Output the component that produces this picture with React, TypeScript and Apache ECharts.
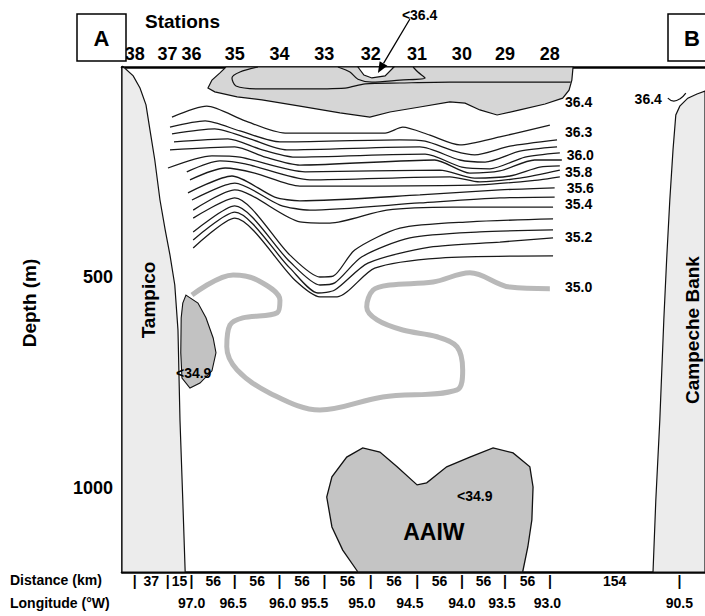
import React, { useEffect, useRef } from 'react';
import * as echarts from 'echarts';

const FONT = '"Liberation Sans", Arial, Helvetica, sans-serif';

// ---- axes (x = along-section distance in km, y = depth in m) ----
const X_MIN = -35;
const X_MAX = 694;
const DEPTH_MAX = 1200;
const depthTicks = [500, 1000];

const stationNames = ['38', '37', '36', '35', '34', '33', '32', '31', '30', '29', '28'];
const stationKm = [-19, 22, 52, 106, 162, 218, 276, 334, 390, 444, 500];
const bankKm = 662;
const segmentKm = ['37', '15', '56', '56', '56', '56', '56', '56', '56', '56', '154'];
const longitudeLabels = ['97.0', '96.5', '96.0', '95.5', '95.0', '94.5', '94.0', '93.5', '93.0', '90.5'];
const longitudeKm = [52, 104, 166, 206, 265, 325, 390, 440, 497, 662];

// ---- shelves ----
const tampicoShelf = [[-35, 0], [-32, 2], [-21, 21], [-12.5, 50], [-5, 90], [0, 150], [6, 221], [12.5, 316], [19, 387], [25, 447], [31, 518], [35, 625], [37.5, 839], [41, 1029], [44, 1200], [-35, 1200]];
const campecheBank = [[694, 57], [684, 64], [672.5, 74], [662.5, 93], [657.5, 114], [654, 197], [650, 316], [646, 459], [642.5, 601], [637.5, 839], [632.5, 1029], [629, 1200], [694, 1200]];

// ---- surface salinity maximum (>36.4) ----
const surface364 = [[95, 0], [529, 0], [527.5, 31], [524, 55], [516, 74], [494, 88], [462.5, 102], [434, 114], [412.5, 102], [394, 86], [375, 83], [337.5, 95], [300, 107], [275, 119], [237.5, 109], [187.5, 93], [140, 78], [109, 71], [81, 59], [72.5, 50], [77.5, 31], [87.5, 14]];
const surfaceInner = [[135, 0], [112.5, 12], [102.5, 26], [107.5, 45], [137.5, 52], [187.5, 52], [244, 50], [269, 40], [312.5, 38], [375, 36], [462.5, 36], [526, 36]];
const lobe32 = [[235, 0], [250, 12], [260, 29], [277.5, 36], [312.5, 31], [344, 26], [335, 12], [329, 0]];
const hole32 = [[260, 0], [267.5, 19], [277.5, 26], [294, 21], [305, 0]];
const bankCurve = [[647.5, 74], [655, 81], [662.5, 76], [670, 62]];

// ---- salinity isolines (36.3 ... 35.2) ----
const isoA = [[27.5, 119], [71, 93], [119, 128], [169, 157], [294, 157], [316, 143], [350, 162], [387.5, 185], [437.5, 166], [500, 138]];
const isoB = [[25, 143], [69, 128], [112.5, 152], [162.5, 178], [312.5, 173], [344, 176], [381, 200], [406, 209], [450, 188], [509, 173]];
const isoC = [[27.5, 159], [81, 147], [125, 171], [171, 197], [337.5, 190], [387.5, 221], [419, 226], [462.5, 200], [509, 190]];
const isoD = [[30, 178], [97.5, 171], [137.5, 195], [181, 214], [344, 207], [390, 238], [425, 242], [469, 214], [512.5, 204]];
const isoE = [[25, 197], [106, 190], [144, 214], [187.5, 233], [356, 221], [400, 252], [437.5, 247], [481, 221], [515, 221]];
const isoF = [[22.5, 240], [77.5, 211], [112.5, 214], [194, 249], [362.5, 245], [406, 264], [450, 259], [487.5, 238], [512.5, 235]];
const isoG = [[46, 249], [87.5, 223], [119, 230], [200, 268], [375, 261], [412.5, 273], [462.5, 264], [512.5, 245]];
const isoH = [[50, 268], [94, 240], [131, 252], [187.5, 283], [412.5, 280], [487.5, 268], [512.5, 261]];
const isoI = [[47.5, 299], [102.5, 259], [156, 309], [187.5, 318], [337.5, 304], [437.5, 292], [506, 287]];
const isoJ = [[52.5, 316], [106, 276], [162.5, 328], [200, 340], [337.5, 323], [437.5, 311], [506, 309]];
const isoK = [[54, 340], [106, 292], [187.5, 368], [225, 371], [296, 340], [379, 333], [504, 333]];
const isoL = [[54, 359], [106, 311], [175, 447], [212.5, 499], [229, 497], [256, 435], [312.5, 383], [400, 368], [504, 361]];
const isoM = [[54, 392], [106, 330], [175, 463], [212.5, 518], [231, 513], [265, 451], [325, 406], [412.5, 392], [504, 387]];
const isoN = [[54, 411], [106, 345], [175, 478], [210, 537], [231, 530], [272.5, 466], [350, 428], [437.5, 416], [504, 406]];
const isoO = [[54, 430], [106, 359], [181, 506], [212.5, 546], [234, 546], [281, 478], [362.5, 454], [504, 449]];

// ---- 35.0 isoline (grey) ----
const iso350 = [[52.5, 542], [104, 494], [134, 506], [162.5, 554], [159, 584], [116, 596], [100, 613], [96, 665], [109, 720], [150, 775], [212.5, 815], [291, 784], [384, 767], [391, 720], [384, 665], [359, 641], [316, 625], [284, 601], [271, 570], [279, 530], [300, 518], [354, 511], [400, 489], [450, 523], [500, 527]];

// ---- low-salinity cores (<34.9) ----
const blob349 = [[45, 542], [60, 561], [70, 596], [79, 644], [82.5, 679], [77.5, 722], [62.5, 751], [50, 763], [40, 739], [38.5, 679], [39, 596], [41, 561]];
const aaiw = [[260, 1200], [241, 1148], [227.5, 1093], [221, 1022], [227.5, 974], [246, 927], [266, 905], [287.5, 915], [309, 950], [334, 993], [346, 988], [371, 950], [400, 927], [429, 905], [454, 917], [475, 950], [479, 998], [477.5, 1076], [472.5, 1140], [466, 1200]];

// ---- contour labels ----
const contourLabels = ['36.4', '36.3', '36.0', '35.8', '35.6', '35.4', '35.2', '35.0', '36.4', '<36.4', '<34.9', '<34.9'];
const contourLabelAnchors = [[519, 83], [519, 154], [521, 209], [519, 249], [521, 287], [519, 326], [519, 404], [519, 523], [606, 76], [315, -124], [32.5, 727], [384, 1019]];
const waterMassLabel = 'AAIW';
const waterMassAnchor = [355, 1105];
const arrowFrom = [325, -114];
const arrowTo = [285, 14];

function polygonSeries(pts: number[][], style: any, z = 2) {
  return {
    type: 'custom',
    coordinateSystem: 'cartesian2d',
    silent: true,
    z,
    data: pts,
    renderItem: (params: any, api: any) => {
      if (params.dataIndex !== 0) return null;
      return { type: 'polygon', shape: { points: pts.map((p) => api.coord(p)) }, style };
    },
  };
}

function lineSeries(pts: number[][], color = '#111', width = 1.3, smooth: number = 0.3, z = 3) {
  return {
    type: 'line',
    data: pts,
    symbol: 'none',
    showSymbol: false,
    smooth,
    silent: true,
    z,
    lineStyle: { color, width },
  };
}

export default function App() {
  const ref = useRef<HTMLDivElement>(null);
  useEffect(() => {
    if (!ref.current) return;
    const chart = echarts.init(ref.current, undefined, { renderer: 'svg' });

    const bottomTicks = [...stationKm, bankKm];
    const mids = bottomTicks.slice(1).map((v, i) => (v + bottomTicks[i]) / 2);
    const bottomMap = new Map<number, string>();
    bottomTicks.forEach((v) => bottomMap.set(v, '|'));
    mids.forEach((v, i) => bottomMap.set(v, segmentKm[i]));
    const bottomValues = [...bottomTicks, ...mids].sort((a, b) => a - b);
    const lonMap = new Map<number, string>();
    longitudeKm.forEach((v, i) => lonMap.set(v, longitudeLabels[i]));
    const stMap = new Map<number, string>();
    stationKm.forEach((v, i) => stMap.set(v, stationNames[i]));

    const bold = (size: number) => ({ fontFamily: FONT, fontWeight: 'bold' as const, fontSize: size, color: '#000' });
    const frameLine = { show: true, onZero: false, lineStyle: { color: '#000', width: 2.5 } };

    const isolines = [isoA, isoB, isoC, isoD, isoE, isoF, isoG, isoH, isoI, isoJ, isoK, isoL, isoM, isoN, isoO];

    const option: any = {
      animation: false,
      backgroundColor: '#fff',
      grid: { left: 122, right: 0, top: 67, bottom: 44, containLabel: false },
      xAxis: [
        {
          type: 'value', min: X_MIN, max: X_MAX, position: 'bottom',
          axisLine: frameLine,
          axisTick: { show: false }, splitLine: { show: false },
          axisLabel: { ...bold(14), margin: 2, customValues: bottomValues, formatter: (v: number) => bottomMap.get(v) ?? '' },
        },
        {
          type: 'value', min: X_MIN, max: X_MAX, position: 'bottom', offset: 22,
          axisLine: { show: false, onZero: false }, axisTick: { show: false }, splitLine: { show: false },
          axisLabel: { ...bold(14), margin: 2, customValues: longitudeKm, formatter: (v: number) => lonMap.get(v) ?? '' },
        },
        {
          type: 'value', min: X_MIN, max: X_MAX, position: 'top',
          axisLine: frameLine,
          axisTick: { show: false }, splitLine: { show: false },
          axisLabel: { ...bold(18), margin: 4, customValues: stationKm, formatter: (v: number) => stMap.get(v) ?? '' },
        },
      ],
      yAxis: {
        type: 'value', inverse: true, min: 0, max: DEPTH_MAX, position: 'left',
        axisLine: frameLine,
        axisTick: { show: false }, splitLine: { show: false },
        axisLabel: { ...bold(18), margin: 9, customValues: depthTicks, formatter: (v: number) => String(v) },
      },
      series: [
        polygonSeries(tampicoShelf, { fill: '#ececec', stroke: '#111', lineWidth: 1.2 }),
        polygonSeries(campecheBank, { fill: '#ececec', stroke: '#111', lineWidth: 1.2 }),
        polygonSeries(surface364, { fill: '#d6d6d6', stroke: '#111', lineWidth: 1.2 }),
        lineSeries(surfaceInner, '#111', 1.2, 0.3),
        lineSeries(lobe32, '#111', 1.2, 0.3),
        polygonSeries(hole32, { fill: '#fff', stroke: '#111', lineWidth: 1.2 }, 3),
        lineSeries(bankCurve, '#111', 1.2, 0.5),
        polygonSeries(blob349, { fill: '#c2c2c2', stroke: '#111', lineWidth: 1.1 }),
        polygonSeries(aaiw, { fill: '#c4c4c4', stroke: '#111', lineWidth: 1.3 }),
        ...isolines.map((d) => lineSeries(d, '#1a1a1a', 1.3, 0.25)),
        lineSeries(iso350, '#b9b9b9', 5, 0.35),
        {
          type: 'custom', coordinateSystem: 'cartesian2d', silent: true, z: 5,
          data: contourLabelAnchors.map((p, i) => [p[0], p[1], i]),
          renderItem: (_params: any, api: any) => {
            const idx = api.value(2);
            const pt = api.coord([api.value(0), api.value(1)]);
            return {
              type: 'text', x: pt[0], y: pt[1],
              style: { text: contourLabels[idx], font: `bold 14px ${FONT}`, fill: '#000', align: 'left', verticalAlign: 'middle' },
            };
          },
        },
        {
          type: 'custom', coordinateSystem: 'cartesian2d', silent: true, z: 5,
          data: [waterMassAnchor],
          renderItem: (_params: any, api: any) => {
            const pt = api.coord([api.value(0), api.value(1)]);
            return {
              type: 'text', x: pt[0], y: pt[1],
              style: { text: waterMassLabel, font: `bold 23px ${FONT}`, fill: '#000', align: 'center', verticalAlign: 'middle' },
            };
          },
        },
        {
          type: 'custom', coordinateSystem: 'cartesian2d', silent: true, z: 5,
          data: [[...arrowFrom, ...arrowTo]],
          renderItem: (_params: any, api: any) => {
            const p0 = api.coord([api.value(0), api.value(1)]);
            const p1 = api.coord([api.value(2), api.value(3)]);
            const dx = p1[0] - p0[0];
            const dy = p1[1] - p0[1];
            const len = Math.sqrt(dx * dx + dy * dy) || 1;
            const ux = dx / len, uy = dy / len;
            const nx = -uy, ny = ux;
            const hl = 11, hw = 4.5;
            const bx = p1[0] - ux * hl, by = p1[1] - uy * hl;
            return {
              type: 'group',
              children: [
                { type: 'line', shape: { x1: p0[0], y1: p0[1], x2: bx, y2: by }, style: { stroke: '#000', lineWidth: 1.3 } },
                { type: 'polygon', shape: { points: [[p1[0], p1[1]], [bx + nx * hw, by + ny * hw], [bx - nx * hw, by - ny * hw]] }, style: { fill: '#000' } },
              ],
            };
          },
        },
      ],
      graphic: [
        { type: 'rect', z: 20, shape: { x: 77, y: 14, width: 49, height: 47 }, style: { fill: '#fff', stroke: '#000', lineWidth: 1.5 } },
        { type: 'text', z: 21, x: 101.5, y: 38, style: { text: 'A', font: `bold 22px ${FONT}`, fill: '#000', align: 'center', verticalAlign: 'middle' } },
        { type: 'rect', z: 20, shape: { x: 668, y: 14, width: 45, height: 47 }, style: { fill: '#fff', stroke: '#000', lineWidth: 1.5 } },
        { type: 'text', z: 21, x: 692, y: 38, style: { text: 'B', font: `bold 22px ${FONT}`, fill: '#000', align: 'center', verticalAlign: 'middle' } },
        { type: 'text', z: 21, x: 145, y: 21, style: { text: 'Stations', font: `bold 19px ${FONT}`, fill: '#000', align: 'left', verticalAlign: 'middle' } },
        { type: 'text', z: 21, x: 10, y: 580, style: { text: 'Distance (km)', font: `bold 14px ${FONT}`, fill: '#000', align: 'left', verticalAlign: 'middle' } },
        { type: 'text', z: 21, x: 10, y: 603, style: { text: 'Longitude (°W)', font: `bold 14px ${FONT}`, fill: '#000', align: 'left', verticalAlign: 'middle' } },
        { type: 'text', z: 21, x: 29, y: 303, rotation: Math.PI / 2, style: { text: 'Depth (m)', font: `bold 19px ${FONT}`, fill: '#000', align: 'center', verticalAlign: 'middle' } },
        { type: 'text', z: 21, x: 148, y: 300, rotation: Math.PI / 2, style: { text: 'Tampico', font: `bold 19px ${FONT}`, fill: '#000', align: 'center', verticalAlign: 'middle' } },
        { type: 'text', z: 21, x: 692, y: 330, rotation: Math.PI / 2, style: { text: 'Campeche Bank', font: `bold 19px ${FONT}`, fill: '#000', align: 'center', verticalAlign: 'middle' } },
      ],
    };
    chart.setOption(option);
    return () => chart.dispose();
  }, []);
  return <div ref={ref} style={{ position: 'absolute', left: 0, top: 0, width: 705, height: 616 }} />;
}
